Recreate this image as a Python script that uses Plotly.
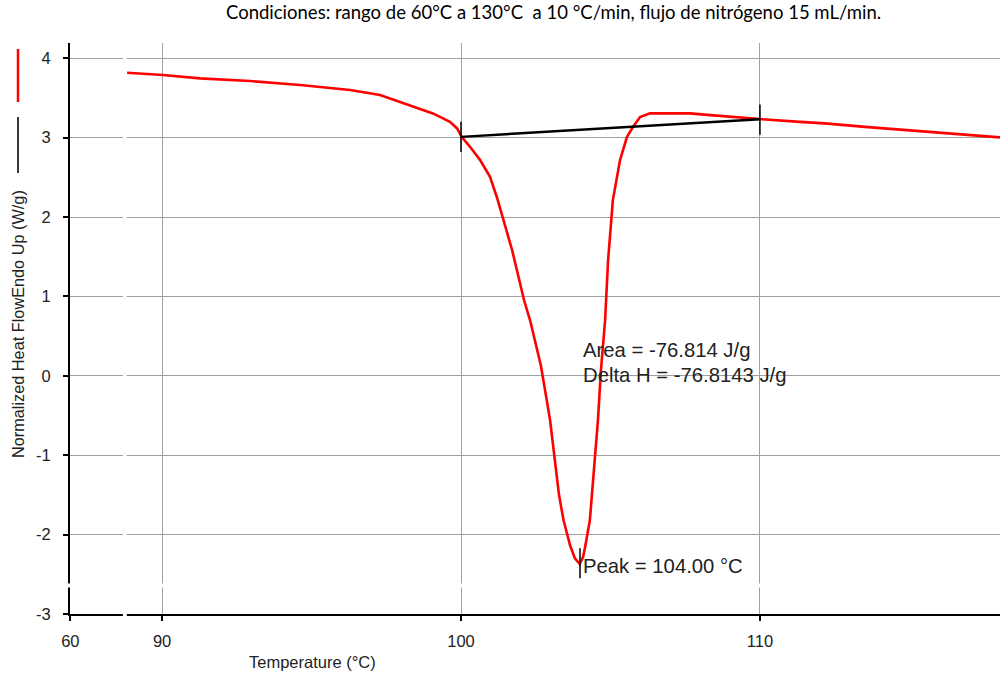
import plotly.graph_objects as go

# ---- data ----
temp_c = [88.83, 90.03, 91.27, 92.94, 94.62, 96.29, 97.29, 97.96, 98.63, 99.06, 99.40,
          99.63, 99.87, 100.02, 100.30, 100.64, 100.97, 101.20, 101.71, 102.11, 102.31,
          102.47, 102.67, 102.84, 102.98, 103.14, 103.28, 103.43, 103.65, 103.81, 103.97,
          104.08, 104.15, 104.31, 104.45, 104.58, 104.68, 104.82, 104.92, 105.08, 105.32,
          105.55, 105.75, 105.99, 106.32, 107.00, 107.66, 108.33, 109.10, 110.00, 111.34,
          112.17, 113.51, 115.01, 116.52, 117.86, 118.03]
heat_flow = [3.818, 3.790, 3.748, 3.714, 3.663, 3.600, 3.537, 3.453, 3.369, 3.306, 3.243,
             3.200, 3.117, 3.011, 2.885, 2.718, 2.507, 2.250, 1.583, 0.952, 0.700,
             0.448, 0.133, -0.245, -0.560, -1.064, -1.505, -1.820, -2.137, -2.300, -2.370,
             -2.285, -2.160, -1.820, -1.190, -0.560, 0.070, 0.700, 1.457, 2.214, 2.718,
             3.008, 3.134, 3.260, 3.307, 3.310, 3.307, 3.285, 3.260, 3.235, 3.200,
             3.180, 3.137, 3.095, 3.054, 3.008, 3.004]

baseline_t = [100.0, 110.0]
baseline_y = [3.011, 3.233]

marker_t = [100.0, 110.0, 103.98]
marker_y = [3.011, 3.228, -2.36]

x_ticks = [86.93, 90, 100, 110]
x_tick_text = ["60", "90", "100", "110"]
y_ticks = [-3, -2, -1, 0, 1, 2, 3, 4]
y_tick_text = ["-3", "-2", "-1", "0", "1", "2", "3", "4"]

title_text = "Condiciones: rango de 60°C a 130°C\u00a0 a 10 °C/min, flujo de nitrógeno 15 mL/min."
area_text = "Area = -76.814 J/g"
delta_text = "Delta H = -76.8143 J/g"
peak_text = "Peak = 104.00 °C"

FONT = "Liberation Sans"

fig = go.Figure()
fig.add_trace(go.Scatter(x=temp_c, y=heat_flow, mode="lines",
                         line=dict(color="#ff0000", width=2.6), hoverinfo="skip"))
fig.add_trace(go.Scatter(x=baseline_t, y=baseline_y, mode="lines",
                         line=dict(color="#000000", width=2.4), hoverinfo="skip"))
fig.add_trace(go.Scatter(x=marker_t, y=marker_y, mode="markers",
                         marker=dict(symbol="line-ns", size=21.5,
                                     line=dict(color="#000000", width=1.5)),
                         hoverinfo="skip"))

def px_to_paper_x(px):
    return (px - 70) / 930.0

def px_to_paper_y(py):
    return (614 - py) / 571.0

shapes = [
    # broken-axis gaps
    dict(type="rect", xref="x", yref="paper", x0=88.69, x1=88.82, y0=-0.012, y1=1.0,
         fillcolor="white", line=dict(width=0), layer="above"),
    dict(type="rect", xref="paper", yref="y", x0=-0.006, x1=1.0, y0=-2.667, y1=-2.617,
         fillcolor="white", line=dict(width=0), layer="above"),
    # legend swatches next to y title
    dict(type="line", xref="paper", yref="paper",
         x0=px_to_paper_x(18), x1=px_to_paper_x(18),
         y0=px_to_paper_y(49), y1=px_to_paper_y(102),
         line=dict(color="#ff0000", width=2.5)),
    dict(type="line", xref="paper", yref="paper",
         x0=px_to_paper_x(18), x1=px_to_paper_x(18),
         y0=px_to_paper_y(117), y1=px_to_paper_y(173),
         line=dict(color="#222222", width=1.8)),
]

annotations = [
    dict(text=title_text, xref="paper", yref="paper", x=px_to_paper_x(553.5),
         y=px_to_paper_y(12), showarrow=False, xanchor="center", yanchor="middle",
         font=dict(family="Lato", size=18.5, color="#000000")),
    dict(text="Normalized Heat FlowEndo Up (W/g)", xref="paper", yref="paper",
         x=px_to_paper_x(18), y=px_to_paper_y(324), textangle=-90, showarrow=False,
         xanchor="center", yanchor="middle",
         font=dict(family=FONT, size=16.3, color="#222222")),
    dict(text="Temperature (°C)", xref="paper", yref="paper",
         x=px_to_paper_x(312), y=px_to_paper_y(662), showarrow=False,
         xanchor="center", yanchor="middle",
         font=dict(family=FONT, size=16.5, color="#222222")),
    dict(text=area_text, xref="x", yref="y", x=104.08, y=0.322, showarrow=False,
         xanchor="left", yanchor="middle", xshift=-2,
         font=dict(family=FONT, size=20.3, color="#222222")),
    dict(text=delta_text, xref="x", yref="y", x=104.08, y=0.007, showarrow=False,
         xanchor="left", yanchor="middle", xshift=-2,
         font=dict(family=FONT, size=20.3, color="#222222")),
    dict(text=peak_text, xref="x", yref="y", x=104.08, y=-2.39, showarrow=False,
         xanchor="left", yanchor="middle", xshift=-2,
         font=dict(family=FONT, size=20.3, color="#222222")),
]

fig.update_layout(
    width=1000, height=673,
    margin=dict(l=70, r=0, t=43, b=59),
    paper_bgcolor="white", plot_bgcolor="white",
    showlegend=False,
    shapes=shapes, annotations=annotations,
    xaxis=dict(range=[86.92, 118.03], tickmode="array", tickvals=x_ticks,
               ticktext=x_tick_text, showgrid=True, gridcolor="#a0a0a0", gridwidth=1,
               zeroline=False, showline=True, linecolor="#000000", linewidth=2,
               ticks="outside", ticklen=5, tickcolor="#000000", tickwidth=1.5,
               tickfont=dict(family=FONT, size=16.5, color="#222222"),
               ticklabelstandoff=6, fixedrange=True),
    yaxis=dict(range=[-3.0, 4.193], tickmode="array", tickvals=y_ticks,
               ticktext=y_tick_text,
               showgrid=True, gridcolor="#a0a0a0", gridwidth=1,
               zeroline=False, showline=True, linecolor="#000000", linewidth=2,
               ticks="outside", ticklen=5, tickcolor="#000000", tickwidth=1.5,
               tickfont=dict(family=FONT, size=16.5, color="#222222"),
               ticklabelstandoff=9, fixedrange=True),
)

fig.write_html("out.html", config={"displayModeBar": False},
               post_script="document.body.style.margin='0';document.body.style.overflow='hidden';")
